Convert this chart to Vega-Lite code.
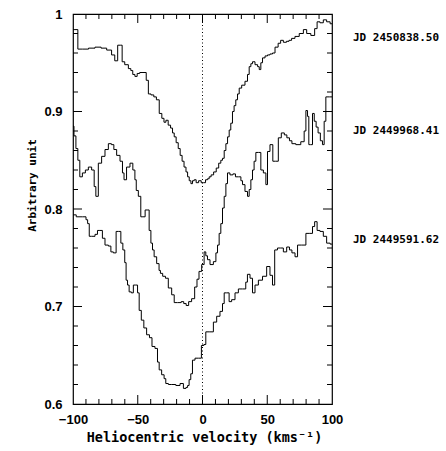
{
  "$schema": "https://vega.github.io/schema/vega-lite/v6.json",
  "width": 259,
  "height": 390,
  "autosize": {"type": "none"},
  "padding": {"left": 73, "top": 14, "right": 114, "bottom": 47},
  "background": "white",
  "config": {
    "view": {"stroke": "black", "strokeWidth": 1.2},
    "axis": {
      "grid": false, "domain": false, "ticks": false, "labelColor": "black", "titleColor": "black",
      "labelFont": "Liberation Sans", "labelFontWeight": "bold", "labelFontSize": 13,
      "titleFont": "DejaVu Sans Mono", "titleFontWeight": "bold",
      "labelOverlap": false, "labelFlush": false
    }
  },
  "datasets": {
    "spectra": [
      {"series": "A", "v": -100, "flux": 0.984}, {"series": "A", "v": -97, "flux": 0.984}, {"series": "A", "v": -95.5, "flux": 0.964},
      {"series": "A", "v": -90, "flux": 0.964}, {"series": "A", "v": -86, "flux": 0.965}, {"series": "A", "v": -80, "flux": 0.966},
      {"series": "A", "v": -76.6, "flux": 0.965}, {"series": "A", "v": -71.4, "flux": 0.963}, {"series": "A", "v": -69, "flux": 0.958},
      {"series": "A", "v": -66.5, "flux": 0.952}, {"series": "A", "v": -64.5, "flux": 0.968}, {"series": "A", "v": -62.5, "flux": 0.968},
      {"series": "A", "v": -61.6, "flux": 0.951}, {"series": "A", "v": -58.5, "flux": 0.948}, {"series": "A", "v": -56, "flux": 0.944},
      {"series": "A", "v": -54.7, "flux": 0.942}, {"series": "A", "v": -53, "flux": 0.938}, {"series": "A", "v": -51.4, "flux": 0.936},
      {"series": "A", "v": -49.5, "flux": 0.939}, {"series": "A", "v": -47.5, "flux": 0.94}, {"series": "A", "v": -44.4, "flux": 0.94},
      {"series": "A", "v": -42.5, "flux": 0.932}, {"series": "A", "v": -41.1, "flux": 0.918}, {"series": "A", "v": -38.5, "flux": 0.917},
      {"series": "A", "v": -36.7, "flux": 0.915}, {"series": "A", "v": -34.5, "flux": 0.912}, {"series": "A", "v": -32.3, "flux": 0.898},
      {"series": "A", "v": -30.5, "flux": 0.893}, {"series": "A", "v": -29, "flux": 0.889}, {"series": "A", "v": -27.5, "flux": 0.891},
      {"series": "A", "v": -25.5, "flux": 0.886}, {"series": "A", "v": -23.8, "flux": 0.883}, {"series": "A", "v": -22.5, "flux": 0.878},
      {"series": "A", "v": -21.2, "flux": 0.874}, {"series": "A", "v": -19.5, "flux": 0.868}, {"series": "A", "v": -18, "flux": 0.862},
      {"series": "A", "v": -16.5, "flux": 0.855}, {"series": "A", "v": -15, "flux": 0.849}, {"series": "A", "v": -13.5, "flux": 0.843},
      {"series": "A", "v": -12, "flux": 0.838}, {"series": "A", "v": -11, "flux": 0.833}, {"series": "A", "v": -9.5, "flux": 0.829},
      {"series": "A", "v": -8.4, "flux": 0.826}, {"series": "A", "v": -7, "flux": 0.829}, {"series": "A", "v": -5.8, "flux": 0.83},
      {"series": "A", "v": -4, "flux": 0.827}, {"series": "A", "v": -2, "flux": 0.829}, {"series": "A", "v": 0, "flux": 0.827},
      {"series": "A", "v": 1.5, "flux": 0.827}, {"series": "A", "v": 3.2, "flux": 0.83}, {"series": "A", "v": 4.5, "flux": 0.831},
      {"series": "A", "v": 5.8, "flux": 0.833}, {"series": "A", "v": 7.5, "flux": 0.835}, {"series": "A", "v": 9.7, "flux": 0.838},
      {"series": "A", "v": 11.5, "flux": 0.842}, {"series": "A", "v": 13.5, "flux": 0.847}, {"series": "A", "v": 14.8, "flux": 0.85},
      {"series": "A", "v": 16.1, "flux": 0.852}, {"series": "A", "v": 17.4, "flux": 0.86}, {"series": "A", "v": 18.7, "flux": 0.867},
      {"series": "A", "v": 20, "flux": 0.874}, {"series": "A", "v": 21.2, "flux": 0.881}, {"series": "A", "v": 22.5, "flux": 0.888},
      {"series": "A", "v": 23.8, "flux": 0.9}, {"series": "A", "v": 25, "flux": 0.906}, {"series": "A", "v": 26.4, "flux": 0.912},
      {"series": "A", "v": 27.7, "flux": 0.918}, {"series": "A", "v": 29, "flux": 0.924}, {"series": "A", "v": 31.5, "flux": 0.927},
      {"series": "A", "v": 34.1, "flux": 0.931}, {"series": "A", "v": 35.4, "flux": 0.938}, {"series": "A", "v": 36.7, "flux": 0.946},
      {"series": "A", "v": 38, "flux": 0.949}, {"series": "A", "v": 39.2, "flux": 0.951}, {"series": "A", "v": 41.9, "flux": 0.948},
      {"series": "A", "v": 43.2, "flux": 0.946}, {"series": "A", "v": 44.4, "flux": 0.943}, {"series": "A", "v": 45.7, "flux": 0.95},
      {"series": "A", "v": 47, "flux": 0.955}, {"series": "A", "v": 49.6, "flux": 0.957}, {"series": "A", "v": 50.8, "flux": 0.958},
      {"series": "A", "v": 53.4, "flux": 0.959}, {"series": "A", "v": 54.7, "flux": 0.96}, {"series": "A", "v": 57.3, "flux": 0.966},
      {"series": "A", "v": 59.5, "flux": 0.97}, {"series": "A", "v": 61.2, "flux": 0.973}, {"series": "A", "v": 63.7, "flux": 0.971},
      {"series": "A", "v": 66, "flux": 0.972}, {"series": "A", "v": 67.6, "flux": 0.973}, {"series": "A", "v": 70, "flux": 0.975},
      {"series": "A", "v": 72.8, "flux": 0.977}, {"series": "A", "v": 76.6, "flux": 0.98}, {"series": "A", "v": 79.2, "flux": 0.984},
      {"series": "A", "v": 81.7, "flux": 0.98}, {"series": "A", "v": 85.6, "flux": 0.978}, {"series": "A", "v": 87.6, "flux": 0.985},
      {"series": "A", "v": 89.4, "flux": 0.992}, {"series": "A", "v": 92, "flux": 0.991}, {"series": "A", "v": 94.6, "flux": 0.994},
      {"series": "A", "v": 97.1, "flux": 0.992}, {"series": "A", "v": 100, "flux": 0.99},

      {"series": "B", "v": -100, "flux": 0.885}, {"series": "B", "v": -98.5, "flux": 0.875}, {"series": "B", "v": -97, "flux": 0.862},
      {"series": "B", "v": -95.5, "flux": 0.85}, {"series": "B", "v": -94, "flux": 0.833}, {"series": "B", "v": -91.5, "flux": 0.837},
      {"series": "B", "v": -89.4, "flux": 0.84}, {"series": "B", "v": -86.9, "flux": 0.843}, {"series": "B", "v": -84.3, "flux": 0.84},
      {"series": "B", "v": -83, "flux": 0.823}, {"series": "B", "v": -81.7, "flux": 0.813}, {"series": "B", "v": -79.2, "flux": 0.847},
      {"series": "B", "v": -76.6, "flux": 0.854}, {"series": "B", "v": -74, "flux": 0.861}, {"series": "B", "v": -71.4, "flux": 0.867},
      {"series": "B", "v": -69.3, "flux": 0.866}, {"series": "B", "v": -67.6, "flux": 0.861}, {"series": "B", "v": -65, "flux": 0.855},
      {"series": "B", "v": -62.4, "flux": 0.849}, {"series": "B", "v": -61.2, "flux": 0.837}, {"series": "B", "v": -60, "flux": 0.83},
      {"series": "B", "v": -57.3, "flux": 0.843}, {"series": "B", "v": -54.7, "flux": 0.847}, {"series": "B", "v": -52.9, "flux": 0.84},
      {"series": "B", "v": -51.5, "flux": 0.83}, {"series": "B", "v": -50.8, "flux": 0.819}, {"series": "B", "v": -48.3, "flux": 0.813},
      {"series": "B", "v": -47, "flux": 0.792}, {"series": "B", "v": -45, "flux": 0.792}, {"series": "B", "v": -43.6, "flux": 0.799},
      {"series": "B", "v": -41.9, "flux": 0.799}, {"series": "B", "v": -40.5, "flux": 0.778}, {"series": "B", "v": -39.2, "flux": 0.765},
      {"series": "B", "v": -38, "flux": 0.758}, {"series": "B", "v": -36.7, "flux": 0.751}, {"series": "B", "v": -34.1, "flux": 0.744},
      {"series": "B", "v": -33, "flux": 0.737}, {"series": "B", "v": -32, "flux": 0.734}, {"series": "B", "v": -29.5, "flux": 0.731},
      {"series": "B", "v": -27.7, "flux": 0.729}, {"series": "B", "v": -25.1, "flux": 0.719}, {"series": "B", "v": -22.5, "flux": 0.712},
      {"series": "B", "v": -21.2, "flux": 0.704}, {"series": "B", "v": -17.4, "flux": 0.704}, {"series": "B", "v": -15.5, "flux": 0.705},
      {"series": "B", "v": -13.5, "flux": 0.703}, {"series": "B", "v": -11.7, "flux": 0.701}, {"series": "B", "v": -9.7, "flux": 0.705},
      {"series": "B", "v": -7.1, "flux": 0.708}, {"series": "B", "v": -5, "flux": 0.72}, {"series": "B", "v": -3.5, "flux": 0.728},
      {"series": "B", "v": -1.9, "flux": 0.736}, {"series": "B", "v": 0.6, "flux": 0.743}, {"series": "B", "v": 1.9, "flux": 0.756},
      {"series": "B", "v": 3.2, "flux": 0.752}, {"series": "B", "v": 4.5, "flux": 0.748}, {"series": "B", "v": 7.1, "flux": 0.743},
      {"series": "B", "v": 9.7, "flux": 0.746}, {"series": "B", "v": 11, "flux": 0.755}, {"series": "B", "v": 12.2, "flux": 0.763},
      {"series": "B", "v": 13.5, "flux": 0.775}, {"series": "B", "v": 14.8, "flux": 0.785}, {"series": "B", "v": 16.1, "flux": 0.801},
      {"series": "B", "v": 17.4, "flux": 0.813}, {"series": "B", "v": 18.7, "flux": 0.826}, {"series": "B", "v": 19.9, "flux": 0.837},
      {"series": "B", "v": 22.5, "flux": 0.835}, {"series": "B", "v": 24.5, "flux": 0.836}, {"series": "B", "v": 26.4, "flux": 0.833},
      {"series": "B", "v": 29, "flux": 0.833}, {"series": "B", "v": 30.3, "flux": 0.829}, {"series": "B", "v": 31.5, "flux": 0.825},
      {"series": "B", "v": 34.1, "flux": 0.818}, {"series": "B", "v": 35.4, "flux": 0.813}, {"series": "B", "v": 36.7, "flux": 0.82},
      {"series": "B", "v": 38, "flux": 0.83}, {"series": "B", "v": 39.2, "flux": 0.84}, {"series": "B", "v": 40.5, "flux": 0.849},
      {"series": "B", "v": 41.9, "flux": 0.858}, {"series": "B", "v": 44.4, "flux": 0.858}, {"series": "B", "v": 45.7, "flux": 0.84},
      {"series": "B", "v": 48.3, "flux": 0.837}, {"series": "B", "v": 49.6, "flux": 0.825}, {"series": "B", "v": 50.8, "flux": 0.859},
      {"series": "B", "v": 53.4, "flux": 0.866}, {"series": "B", "v": 55.2, "flux": 0.849}, {"series": "B", "v": 57.8, "flux": 0.849},
      {"series": "B", "v": 59.3, "flux": 0.873}, {"series": "B", "v": 62.4, "flux": 0.878}, {"series": "B", "v": 64, "flux": 0.876},
      {"series": "B", "v": 66.3, "flux": 0.873}, {"series": "B", "v": 68, "flux": 0.87}, {"series": "B", "v": 70.1, "flux": 0.867},
      {"series": "B", "v": 74, "flux": 0.866}, {"series": "B", "v": 77.8, "flux": 0.869}, {"series": "B", "v": 79.2, "flux": 0.88},
      {"series": "B", "v": 80.5, "flux": 0.901}, {"series": "B", "v": 81.7, "flux": 0.895}, {"series": "B", "v": 82.5, "flux": 0.866},
      {"series": "B", "v": 84.3, "flux": 0.866}, {"series": "B", "v": 85.6, "flux": 0.898}, {"series": "B", "v": 87, "flux": 0.89},
      {"series": "B", "v": 88.5, "flux": 0.884}, {"series": "B", "v": 90, "flux": 0.878}, {"series": "B", "v": 92, "flux": 0.87},
      {"series": "B", "v": 93.3, "flux": 0.866}, {"series": "B", "v": 94.6, "flux": 0.89}, {"series": "B", "v": 95.9, "flux": 0.915},
      {"series": "B", "v": 100, "flux": 0.915},

      {"series": "C", "v": -100, "flux": 0.794}, {"series": "C", "v": -95, "flux": 0.792}, {"series": "C", "v": -90.5, "flux": 0.792},
      {"series": "C", "v": -89.4, "flux": 0.789}, {"series": "C", "v": -88, "flux": 0.785}, {"series": "C", "v": -86.9, "flux": 0.772},
      {"series": "C", "v": -84.3, "flux": 0.772}, {"series": "C", "v": -81.7, "flux": 0.774}, {"series": "C", "v": -80.5, "flux": 0.778},
      {"series": "C", "v": -78, "flux": 0.778}, {"series": "C", "v": -76.6, "flux": 0.77}, {"series": "C", "v": -74, "flux": 0.763},
      {"series": "C", "v": -71.4, "flux": 0.762}, {"series": "C", "v": -70.1, "flux": 0.756}, {"series": "C", "v": -67.6, "flux": 0.755},
      {"series": "C", "v": -65.8, "flux": 0.777}, {"series": "C", "v": -63.7, "flux": 0.777}, {"series": "C", "v": -62.4, "flux": 0.765},
      {"series": "C", "v": -60.6, "flux": 0.758}, {"series": "C", "v": -59.5, "flux": 0.745}, {"series": "C", "v": -58.5, "flux": 0.727},
      {"series": "C", "v": -57.3, "flux": 0.722}, {"series": "C", "v": -56, "flux": 0.715}, {"series": "C", "v": -53.9, "flux": 0.714},
      {"series": "C", "v": -52.9, "flux": 0.722}, {"series": "C", "v": -50.8, "flux": 0.722}, {"series": "C", "v": -49.5, "flux": 0.714},
      {"series": "C", "v": -48.3, "flux": 0.696}, {"series": "C", "v": -46.2, "flux": 0.686}, {"series": "C", "v": -44.4, "flux": 0.678},
      {"series": "C", "v": -41.9, "flux": 0.671}, {"series": "C", "v": -40, "flux": 0.668}, {"series": "C", "v": -38, "flux": 0.659},
      {"series": "C", "v": -35.4, "flux": 0.657}, {"series": "C", "v": -34.1, "flux": 0.643}, {"series": "C", "v": -32.8, "flux": 0.635},
      {"series": "C", "v": -30.3, "flux": 0.63}, {"series": "C", "v": -29, "flux": 0.626}, {"series": "C", "v": -27.7, "flux": 0.621},
      {"series": "C", "v": -25, "flux": 0.62}, {"series": "C", "v": -22.5, "flux": 0.62}, {"series": "C", "v": -18.7, "flux": 0.619},
      {"series": "C", "v": -16, "flux": 0.621}, {"series": "C", "v": -13.5, "flux": 0.616}, {"series": "C", "v": -12, "flux": 0.617},
      {"series": "C", "v": -11, "flux": 0.619}, {"series": "C", "v": -9.7, "flux": 0.625}, {"series": "C", "v": -8.4, "flux": 0.631},
      {"series": "C", "v": -7.1, "flux": 0.645}, {"series": "C", "v": -4.5, "flux": 0.647}, {"series": "C", "v": -1.9, "flux": 0.647},
      {"series": "C", "v": 0.2, "flux": 0.66}, {"series": "C", "v": 1.9, "flux": 0.661}, {"series": "C", "v": 3.2, "flux": 0.674},
      {"series": "C", "v": 7.1, "flux": 0.674}, {"series": "C", "v": 9.7, "flux": 0.684}, {"series": "C", "v": 12.2, "flux": 0.69},
      {"series": "C", "v": 14.8, "flux": 0.695}, {"series": "C", "v": 16.1, "flux": 0.703}, {"series": "C", "v": 17.4, "flux": 0.714},
      {"series": "C", "v": 19.9, "flux": 0.714}, {"series": "C", "v": 21.2, "flux": 0.705}, {"series": "C", "v": 23.8, "flux": 0.707},
      {"series": "C", "v": 26.4, "flux": 0.714}, {"series": "C", "v": 29, "flux": 0.718}, {"series": "C", "v": 32.8, "flux": 0.718},
      {"series": "C", "v": 34, "flux": 0.725}, {"series": "C", "v": 35.4, "flux": 0.733}, {"series": "C", "v": 38, "flux": 0.729},
      {"series": "C", "v": 39.2, "flux": 0.714}, {"series": "C", "v": 41.9, "flux": 0.722}, {"series": "C", "v": 44.4, "flux": 0.727},
      {"series": "C", "v": 48.3, "flux": 0.731}, {"series": "C", "v": 50.8, "flux": 0.741}, {"series": "C", "v": 53.4, "flux": 0.732},
      {"series": "C", "v": 54.7, "flux": 0.722}, {"series": "C", "v": 56.8, "flux": 0.758}, {"series": "C", "v": 59, "flux": 0.76},
      {"series": "C", "v": 61.2, "flux": 0.76}, {"series": "C", "v": 63.7, "flux": 0.756}, {"series": "C", "v": 66.3, "flux": 0.761},
      {"series": "C", "v": 68, "flux": 0.758}, {"series": "C", "v": 70.1, "flux": 0.755}, {"series": "C", "v": 72.8, "flux": 0.751},
      {"series": "C", "v": 74, "flux": 0.763}, {"series": "C", "v": 79.2, "flux": 0.763}, {"series": "C", "v": 80.5, "flux": 0.775},
      {"series": "C", "v": 84.3, "flux": 0.775}, {"series": "C", "v": 85.6, "flux": 0.782}, {"series": "C", "v": 87.6, "flux": 0.787},
      {"series": "C", "v": 89.4, "flux": 0.778}, {"series": "C", "v": 92, "flux": 0.777}, {"series": "C", "v": 94.6, "flux": 0.772},
      {"series": "C", "v": 97.1, "flux": 0.765}, {"series": "C", "v": 100, "flux": 0.764}
    ],
    "labels": [
      {"label": "JD 2450838.50", "flux": 0.975},
      {"label": "JD 2449968.41", "flux": 0.88},
      {"label": "JD 2449591.62", "flux": 0.768}
    ],
    "xticks": [
      {"v": -90, "major": false}, {"v": -80, "major": false}, {"v": -70, "major": false}, {"v": -60, "major": false},
      {"v": -50, "major": true}, {"v": -40, "major": false}, {"v": -30, "major": false}, {"v": -20, "major": false},
      {"v": -10, "major": false}, {"v": 0, "major": true}, {"v": 10, "major": false}, {"v": 20, "major": false},
      {"v": 30, "major": false}, {"v": 40, "major": false}, {"v": 50, "major": true}, {"v": 60, "major": false},
      {"v": 70, "major": false}, {"v": 80, "major": false}, {"v": 90, "major": false}
    ],
    "yticks": [
      {"flux": 0.62, "major": false}, {"flux": 0.64, "major": false}, {"flux": 0.66, "major": false}, {"flux": 0.68, "major": false},
      {"flux": 0.7, "major": true}, {"flux": 0.72, "major": false}, {"flux": 0.74, "major": false}, {"flux": 0.76, "major": false},
      {"flux": 0.78, "major": false}, {"flux": 0.8, "major": true}, {"flux": 0.82, "major": false}, {"flux": 0.84, "major": false},
      {"flux": 0.86, "major": false}, {"flux": 0.88, "major": false}, {"flux": 0.9, "major": true}, {"flux": 0.92, "major": false},
      {"flux": 0.94, "major": false}, {"flux": 0.96, "major": false}, {"flux": 0.98, "major": false}
    ]
  },
  "resolve": {"axis": {"x": "independent", "y": "independent"}},
  "layer": [
    {
      "data": {"name": "spectra"},
      "mark": {"type": "line", "interpolate": "step", "color": "black", "strokeWidth": 1},
      "encoding": {
        "x": {
          "field": "v", "type": "quantitative",
          "scale": {"domain": [-100, 100], "nice": false, "zero": false},
          "axis": {
            "orient": "bottom",
            "values": [-100, -50, 0, 50, 100],
            "labelPadding": 9,
            "title": "Heliocentric velocity (kms⁻¹)",
            "titleFontSize": 13.5,
            "titleX": 131, "titleY": 33, "titleBaseline": "middle"
          }
        },
        "y": {
          "field": "flux", "type": "quantitative",
          "scale": {"domain": [0.6, 1], "nice": false, "zero": false},
          "axis": {
            "orient": "left",
            "values": [0.6, 0.7, 0.8, 0.9, 1],
            "labelExpr": "format(datum.value, '~g')",
            "labelPadding": 11,
            "title": "Arbitrary unit",
            "titleFontSize": 11,
            "titleX": -41, "titleY": 171, "titleBaseline": "middle", "titleAlign": "center"
          }
        },
        "detail": {"field": "series"}
      }
    },
    {
      "data": {"values": [{}]},
      "mark": {"type": "rule", "strokeDash": [1, 2.5], "color": "black", "strokeWidth": 1},
      "encoding": {
        "x": {"datum": 0, "type": "quantitative", "axis": null},
        "y": {"datum": 0.6, "type": "quantitative", "axis": null},
        "y2": {"datum": 1}
      }
    },
    {
      "data": {"name": "xticks"},
      "mark": {"type": "tick", "orient": "vertical", "color": "black", "thickness": 1, "opacity": 1, "clip": true},
      "encoding": {
        "x": {"field": "v", "type": "quantitative", "axis": null},
        "y": {"datum": 0.6, "type": "quantitative", "axis": null},
        "size": {"condition": {"test": "datum.major", "value": 18}, "value": 10}
      }
    },
    {
      "data": {"name": "xticks"},
      "mark": {"type": "tick", "orient": "vertical", "color": "black", "thickness": 1, "opacity": 1, "clip": true},
      "encoding": {
        "x": {"field": "v", "type": "quantitative", "axis": null},
        "y": {"datum": 1, "type": "quantitative", "axis": null},
        "size": {"condition": {"test": "datum.major", "value": 18}, "value": 10}
      }
    },
    {
      "data": {"name": "yticks"},
      "mark": {"type": "tick", "orient": "horizontal", "color": "black", "thickness": 1, "opacity": 1, "clip": true},
      "encoding": {
        "y": {"field": "flux", "type": "quantitative", "axis": null},
        "x": {"datum": -100, "type": "quantitative", "axis": null},
        "size": {"condition": {"test": "datum.major", "value": 18}, "value": 10}
      }
    },
    {
      "data": {"name": "yticks"},
      "mark": {"type": "tick", "orient": "horizontal", "color": "black", "thickness": 1, "opacity": 1, "clip": true},
      "encoding": {
        "y": {"field": "flux", "type": "quantitative", "axis": null},
        "x": {"datum": 100, "type": "quantitative", "axis": null},
        "size": {"condition": {"test": "datum.major", "value": 18}, "value": 10}
      }
    },
    {
      "data": {"name": "labels"},
      "mark": {"type": "text", "align": "left", "baseline": "middle", "dx": 21, "font": "DejaVu Sans Mono", "fontWeight": "bold", "fontSize": 11, "color": "black"},
      "encoding": {
        "x": {"datum": 100, "type": "quantitative", "axis": null},
        "y": {"field": "flux", "type": "quantitative", "axis": null},
        "text": {"field": "label"}
      }
    }
  ]
}
